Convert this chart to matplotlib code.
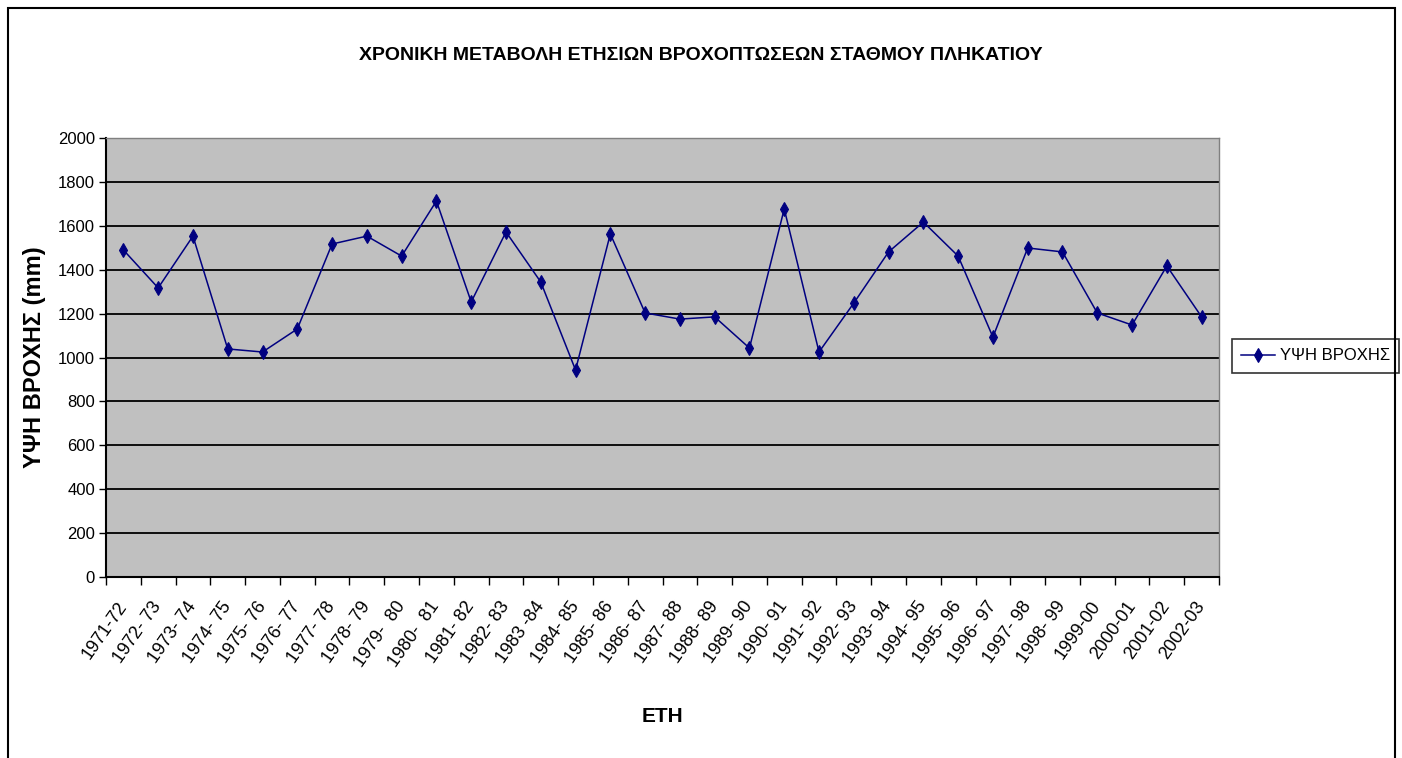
import matplotlib
matplotlib.use("Agg")
import matplotlib.pyplot as plt
import matplotlib.transforms as mtransforms
from matplotlib.patches import Rectangle

years = ["1971-72", "1972- 73", "1973- 74", "1974- 75", "1975- 76", "1976- 77",
         "1977- 78", "1978- 79", "1979-  80", "1980-  81", "1981- 82", "1982- 83",
         "1983 -84", "1984- 85", "1985- 86", "1986- 87", "1987- 88", "1988- 89",
         "1989- 90", "1990- 91", "1991- 92", "1992- 93", "1993- 94", "1994- 95",
         "1995- 96", "1996- 97", "1997- 98", "1998- 99", "1999-00", "2000-01",
         "2001-02", "2002-03"]
rain = [1490, 1317, 1553, 1039, 1025, 1130, 1517, 1553, 1462, 1713, 1253, 1572,
        1344, 943, 1563, 1203, 1175, 1185, 1043, 1677, 1025, 1248, 1481, 1617,
        1462, 1093, 1499, 1481, 1203, 1148, 1417, 1185]
yticks = [0, 200, 400, 600, 800, 1000, 1200, 1400, 1600, 1800, 2000]

fnt = ["Liberation Sans", "DejaVu Sans"]

fig = plt.figure(figsize=(14.02, 7.58), dpi=100)
fig.patches.append(Rectangle((8 / 1402, -0.05), 1387 / 1402, 1.05 - 8 / 758,
                             transform=fig.transFigure, fill=False,
                             edgecolor="black", linewidth=1.5))

ax = fig.add_axes([106 / 1402, 181 / 758, 1113 / 1402, 439 / 758])
ax.set_facecolor("#C0C0C0")
x = list(range(len(years)))
ax.plot(x, rain, color="#000080", linewidth=1.1, marker="d", markersize=7.5,
        markeredgewidth=0.8, label="ΥΨΗ ΒΡΟΧΗΣ", zorder=3)

ax.set_xlim(-0.5, len(years) - 0.5)
ax.set_ylim(0, 2000)
ax.set_yticks(yticks)
ax.set_yticklabels([str(v) for v in yticks], family=fnt, fontsize=12)
ax.yaxis.grid(True, color="black", linewidth=1.3)
ax.set_axisbelow(True)

ax.set_xticks(x)
ax.set_xticklabels(years, family=fnt, fontsize=13, rotation=55,
                   ha="right", va="center", rotation_mode="anchor")
shift = mtransforms.ScaledTranslation(-7 / 100, 0, fig.dpi_scale_trans)
for lab in ax.get_xticklabels():
    lab.set_transform(lab.get_transform() + shift)
ax.set_xticks([i + 0.5 for i in range(-1, len(years))], minor=True)
ax.tick_params(axis="x", which="major", length=0, pad=19)
ax.tick_params(axis="x", which="minor", length=6, width=1, direction="out")
ax.tick_params(axis="y", length=5, width=1, direction="out", pad=3)

for s in ["left", "bottom"]:
    ax.spines[s].set_color("black")
    ax.spines[s].set_linewidth(1.5)
for s in ["top", "right"]:
    ax.spines[s].set_color("#808080")
    ax.spines[s].set_linewidth(1)

fig.text(0.5, 1 - 55 / 758, "ΧΡΟΝΙΚΗ ΜΕΤΑΒΟΛΗ ΕΤΗΣΙΩΝ ΒΡΟΧΟΠΤΩΣΕΩΝ ΣΤΑΘΜΟΥ ΠΛΗΚΑΤΙΟΥ",
         ha="center", va="center", fontsize=14, fontweight="bold", family=fnt)
fig.text(35 / 1402, 1 - 357 / 758, "ΥΨΗ ΒΡΟΧΗΣ (mm)", rotation=90,
         ha="center", va="center", fontsize=17, fontweight="bold", family=fnt)
fig.text(662 / 1402, 1 - 717 / 758, "ΕΤΗ", ha="center", va="center",
         fontsize=15, fontweight="bold", family=fnt)

leg = ax.legend(loc="center left", bbox_to_anchor=(1232 / 1402, 1 - 356 / 758),
                bbox_transform=fig.transFigure, frameon=True, fancybox=False,
                edgecolor="black", handlelength=2.0, handletextpad=0.3,
                borderpad=0.55, borderaxespad=0,
                prop={"family": fnt, "size": 12})
leg.get_frame().set_linewidth(1.2)

fig.savefig("out.png", dpi=100)
